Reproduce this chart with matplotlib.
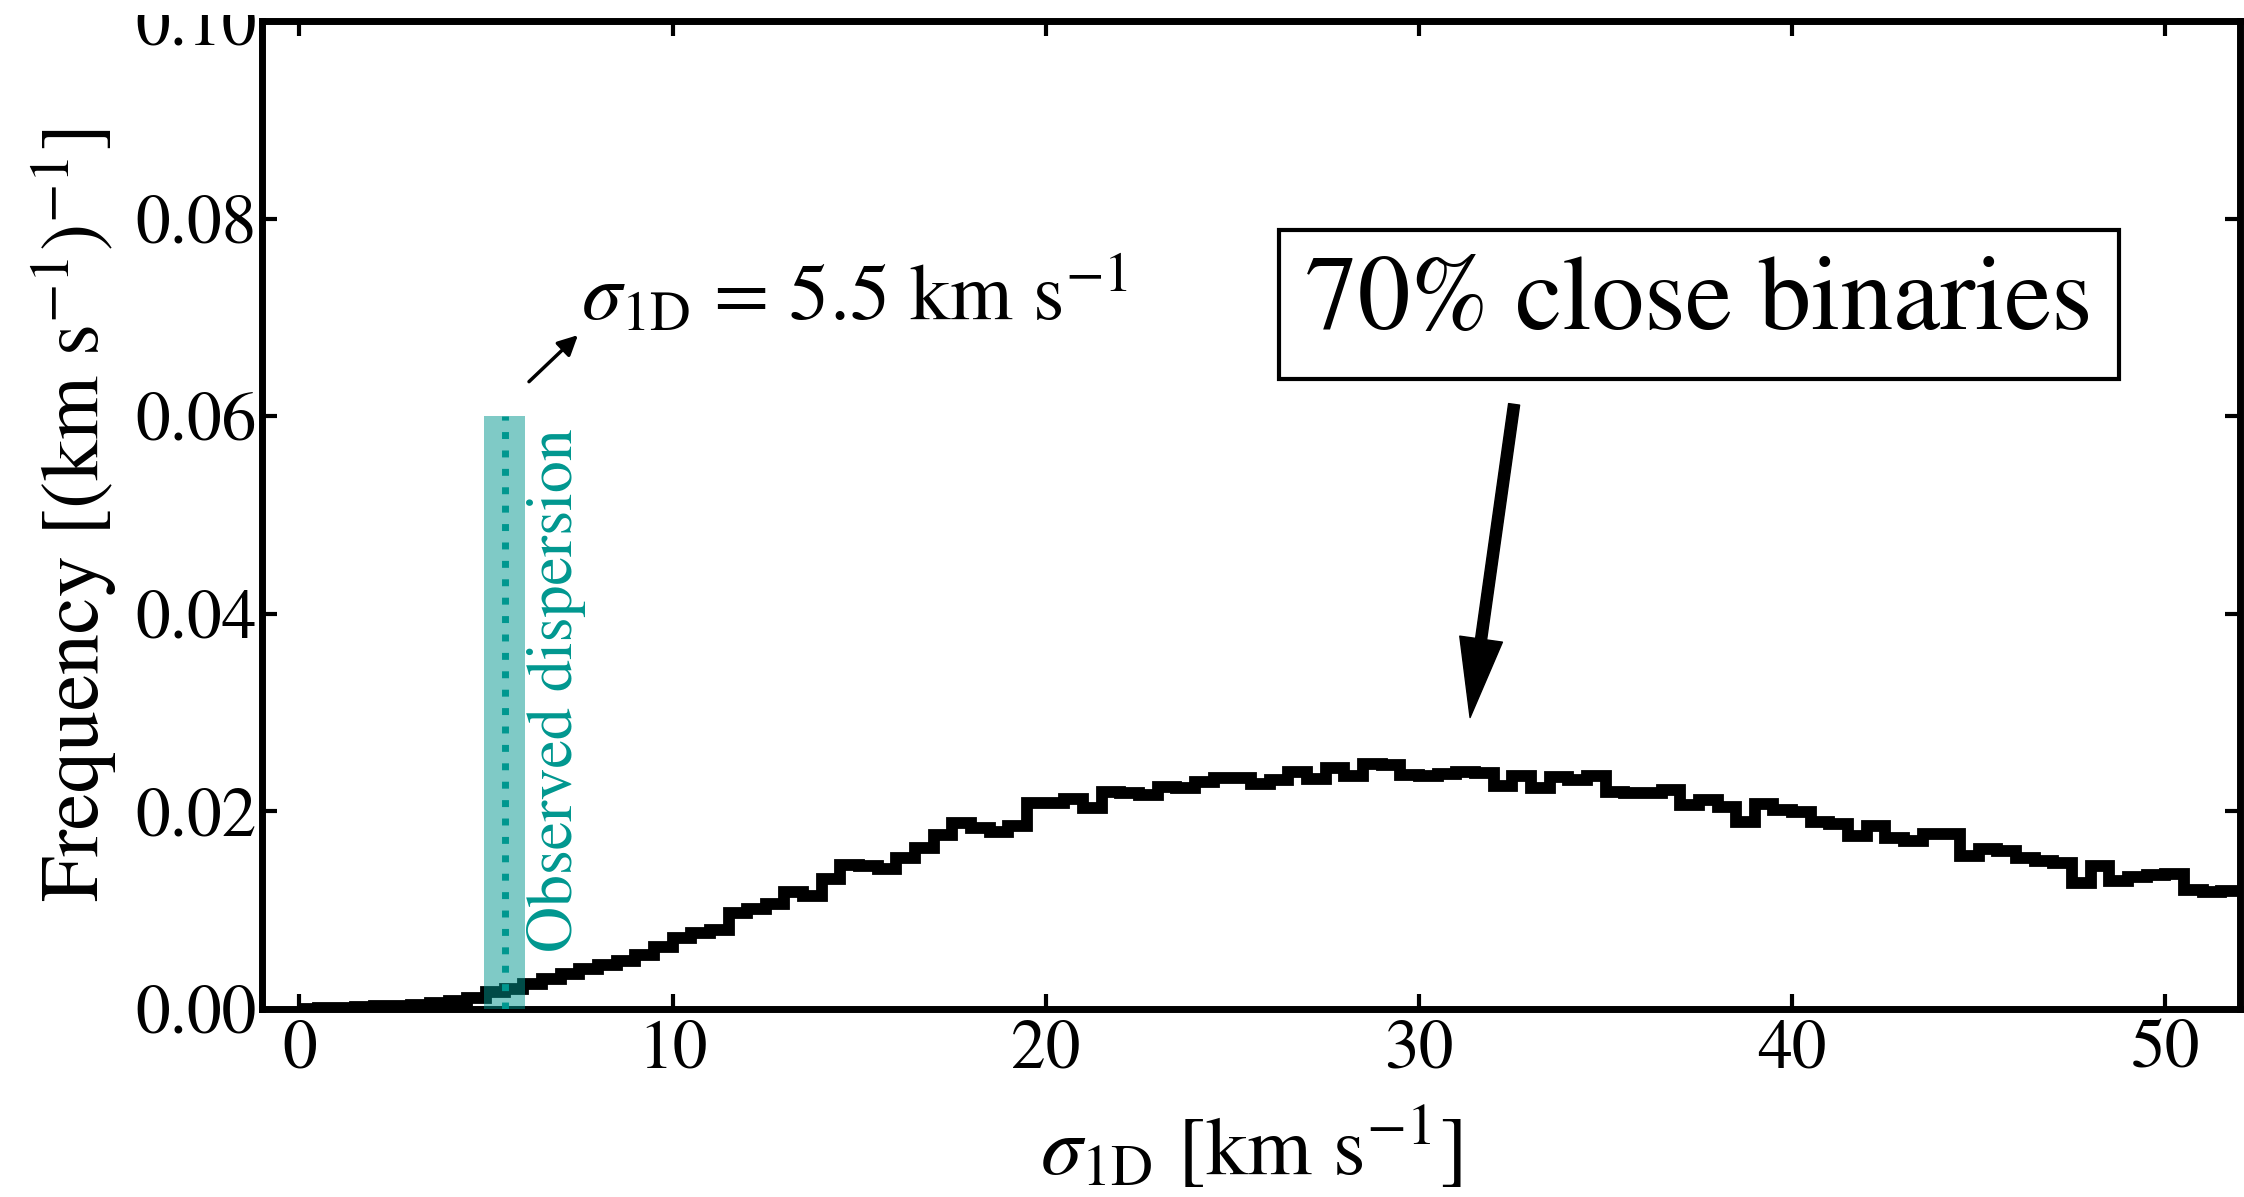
import numpy as np
import matplotlib
matplotlib.use("Agg")
import matplotlib.pyplot as plt
from matplotlib.patches import Rectangle
from matplotlib.ticker import FormatStrFormatter

# Histogram of sigma_1D (bins of 0.5 km/s starting at 0)
bin_width = 0.5
freq = [
    0.0000, 0.0001, 0.0001, 0.0002, 0.0003, 0.0003, 0.0004, 0.0006,   # 0 - 4
    0.0008, 0.0011, 0.0017, 0.0020, 0.0025, 0.0030, 0.0035, 0.0040,   # 4 - 8
    0.0045, 0.0049, 0.0055, 0.0063, 0.0072, 0.0077, 0.0080, 0.0097,   # 8 - 12
    0.0101, 0.0106, 0.0118, 0.0114, 0.0132, 0.0146, 0.0145, 0.0142,   # 12 - 16
    0.0153, 0.0163, 0.0176, 0.0188, 0.0183, 0.0179, 0.0185, 0.0209,   # 16 - 20
    0.0209, 0.0213, 0.0203, 0.0220, 0.0219, 0.0217, 0.0225, 0.0224,   # 20 - 24
    0.0230, 0.0234, 0.0234, 0.0228, 0.0232, 0.0240, 0.0233, 0.0244,   # 24 - 28
    0.0236, 0.0248, 0.0247, 0.0237, 0.0236, 0.0238, 0.0240, 0.0239,   # 28 - 32
    0.0226, 0.0236, 0.0224, 0.0235, 0.0232, 0.0236, 0.0220, 0.0219,   # 32 - 36
    0.0219, 0.0222, 0.0206, 0.0212, 0.0204, 0.0189, 0.0207, 0.0201,   # 36 - 40
    0.0199, 0.0189, 0.0187, 0.0175, 0.0185, 0.0173, 0.0170, 0.0177,   # 40 - 44
    0.0177, 0.0155, 0.0162, 0.0160, 0.0153, 0.0150, 0.0148, 0.0128,   # 44 - 48
    0.0145, 0.0130, 0.0134, 0.0136, 0.0137, 0.0120, 0.0118, 0.0119,   # 48 - 52
]
edges = np.arange(len(freq) + 1) * bin_width

# observed dispersion and its uncertainty
obs_sigma = 5.5
obs_err = 0.55
band_top = 0.06

xticks = [0, 10, 20, 30, 40, 50]
yticks = [0.00, 0.02, 0.04, 0.06, 0.08, 0.10]

teal = "#00978f"

plt.rcParams["font.family"] = "STIXGeneral"
plt.rcParams["mathtext.fontset"] = "stix"

fig = plt.figure(figsize=(22.44, 11.97), dpi=100)
W, H = 2244, 1197
ax = fig.add_axes([262 / W, 1 - 1009 / H, (2240 - 262) / W, (1009 - 21) / H])

ax.stairs(freq, edges, color="k", lw=8.5, baseline=None, zorder=2)

ax.fill_between([obs_sigma - obs_err, obs_sigma + obs_err], 0, band_top,
                color=teal, alpha=0.5, lw=0, zorder=3)
ax.plot([obs_sigma, obs_sigma], [0, band_top], ls=":", color=teal, lw=5, zorder=4)
ax.text(6.1, 0.0058, "Observed dispersion", rotation=90, color=teal,
        fontsize=46, ha="left", va="bottom")

ax.annotate("", xy=(7.52, 0.0684), xytext=(6.1, 0.0633),
            arrowprops=dict(arrowstyle="-|>", color="k", lw=2.5, mutation_scale=30))
ax.text(7.55, 0.0722, r"$\sigma_{\rm 1D}$ = 5.5 km s$^{-1}$", fontsize=58,
        ha="left", va="center")

ax.text(37.5, 0.0713, "70% close binaries", fontsize=76, ha="center", va="center",
        bbox=dict(boxstyle="square,pad=0.25", fc="white", ec="k", lw=3))
ax.annotate("", xy=(31.37, 0.0295), xytext=(32.55, 0.0612),
            arrowprops=dict(facecolor="k", edgecolor="k", width=8, headwidth=31,
                            headlength=57, shrink=0))

ax.set_xlim(-1, 52)
ax.set_ylim(0, 0.10)
ax.set_xticks(xticks)
ax.set_yticks(yticks)
ax.yaxis.set_major_formatter(FormatStrFormatter("%.2f"))
ax.tick_params(direction="in", top=True, right=True, length=11, width=3,
               labelsize=50)
ax.tick_params(axis="x", pad=8)
ax.tick_params(axis="y", pad=4)
for s in ax.spines.values():
    s.set_linewidth(5)

ax.set_xlabel(r"$\sigma_{\rm 1D}$ [km s$^{-1}$]", fontsize=60)
ax.set_ylabel(r"Frequency [(km s$^{-1}$)$^{-1}$]", fontsize=59)
ax.xaxis.set_label_coords(0.5, -0.098)
ax.yaxis.set_label_coords(-0.073, 0.5)

# the figure is cut at the top, hiding the upper half of the last label
fig.add_artist(Rectangle((0, 1 - 15 / H), 1, 15 / H, transform=fig.transFigure,
                         fc="white", ec="none", zorder=10))

fig.savefig("out.png", dpi=100)
